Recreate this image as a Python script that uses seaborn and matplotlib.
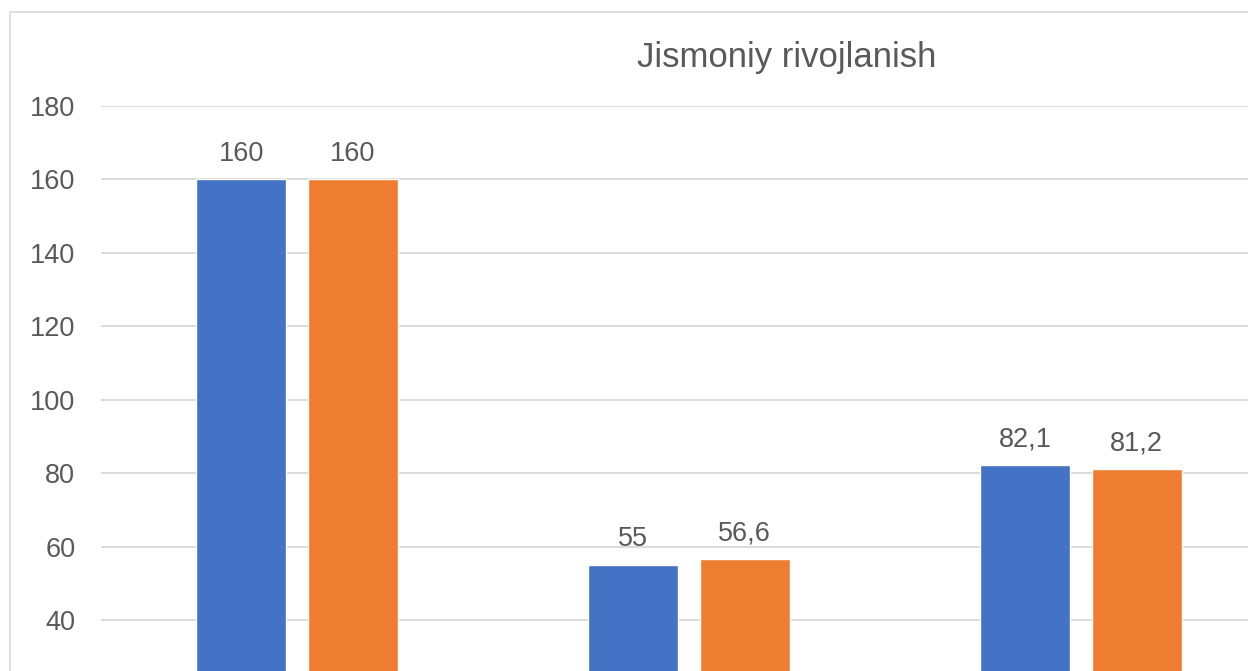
import matplotlib
matplotlib.use("Agg")
import matplotlib.pyplot as plt
from matplotlib.patches import Rectangle
import pandas as pd
import seaborn as sns

# data
categories = ["Bo'y (sm)", "Vazn (kg)", "Ko'krak aylanasi (sm)"]
series_names = ["Tajriba guruhi", "Nazorat guruhi"]
group_a = [160, 55, 82.1]
group_b = [160, 56.6, 81.2]
yticks = [40, 60, 80, 100, 120, 140, 160, 180]  # lower ticks fall below the crop
title = "Jismoniy rivojlanish"

colors = ["#4472C4", "#ED7D31"]
text_grey = "#595959"
grid_grey = "#D9D9D9"

df = pd.DataFrame({
    "cat": categories * 2,
    "series": [series_names[0]] * 3 + [series_names[1]] * 3,
    "value": group_a + group_b,
})

sns.set_style("white")
plt.rcParams["font.family"] = ["Liberation Sans", "DejaVu Sans"]

W, H = 1248, 671
fig = plt.figure(figsize=(W / 100, H / 100), dpi=100)

# outer chart border (the picture is a crop, so it runs off right/bottom)
fig.patches.append(Rectangle((10 / W, -0.2), 1.5, 1.2 - 12 / H,
                             transform=fig.transFigure, fill=False,
                             edgecolor=grid_grey, linewidth=1.2))

# plot area: 180 sits at y=106 px, 0 would be well below the crop
px_per_unit = (620 - 106) / 140
bottom_px = 106 + 180 * px_per_unit
ax = fig.add_axes([101 / W, (H - bottom_px) / H,
                   3 * 392 / W, (bottom_px - 106) / H])

sns.barplot(data=df, x="cat", y="value", hue="series", palette=colors,
            width=0.57, gap=0.2, ax=ax, legend=False, saturation=1)

for cont in ax.containers:
    labels = [f"{b.get_height():g}".replace(".", ",") for b in cont]
    ax.bar_label(cont, labels=labels, padding=9, fontsize=19.5, color=text_grey)

ax.set_ylim(0, 180)
ax.set_xlim(-0.5, 2.5)
ax.set_yticks(yticks)
ax.yaxis.grid(True, color=grid_grey, linewidth=1.3)
ax.set_axisbelow(True)
ax.tick_params(axis="y", length=0, pad=18.5, labelsize=19.5, labelcolor=text_grey)
# category labels sit below the cropped edge, so they are not drawn
ax.tick_params(axis="x", length=0, labelbottom=False)
ax.set_xlabel("")
ax.set_ylabel("")
sns.despine(ax=ax, left=True, bottom=True)

fig.text(787 / W, 1 - 58 / H, title, ha="center", va="center",
         fontsize=25, color=text_grey)

fig.savefig("out.png", dpi=100)
